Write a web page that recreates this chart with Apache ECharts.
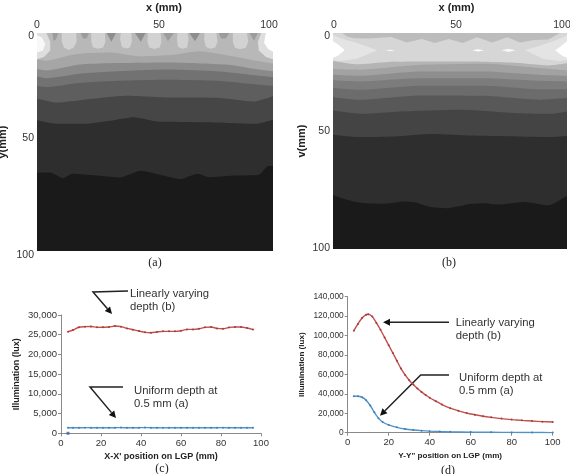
<!DOCTYPE html>
<html>
<head>
<meta charset="utf-8">
<style>html,body{margin:0;padding:0;background:#fff}#c{width:570px;height:474px}</style>
<script src="https://cdn.jsdelivr.net/npm/echarts@6/dist/echarts.min.js"></script>
</head>
<body>
<div id="c"></div>
<script>
// Illumination maps of the light guide plate: filled iso-illumination bands, depth y measured from the top edge.
const bandGreysA = ['#b8b8b8','#a6a6a6','#8a8a8a','#727272','#5e5e5e','#464646','#2e2e2e','#1a1a1a'];
const bandsA = [
  [[0,0],[100,0]],
  [[0,12],[4,12.7],[15,10],[22,9.2],[31,8.9],[44,10.7],[58,10],[68.5,8.4],[83,10.7],[94,13],[100,14.1]],
  [[0,16.5],[4,17.2],[18,14.5],[34,13.8],[55,13.5],[80,14.5],[94,16.8],[100,17.6]],
  [[0,19.9],[4,20.7],[18,18.7],[34,17.6],[55,16.8],[76,17.6],[94,19.6],[100,20.2]],
  [[0,24.2],[4,24.8],[17,23],[34,21.9],[55,21.4],[76,21.9],[94,23.7],[100,24.2]],
  [[0,30],[8.5,31.9],[20,30.6],[38,28.8],[55,29.6],[76,29.7],[92,31.4],[100,29]],
  [[0,40],[8.5,41.6],[20,41.6],[31,40.2],[41,38.6],[51,40.6],[63,40.8],[76,41],[93,41.6],[100,39.8]],
  [[0,64],[5.6,64],[11,66.6],[15,64.6],[21,65],[27,65.5],[35,66.3],[44,63.2],[52,65],[61,67],[68,64.6],[73,66.2],[83,65.4],[94,65],[98,61],[100,61]]
];
// Bright patches under each light source and darker wedges between them (band A, top edge).
const patchesA = [
  {grey:'#dedede', pts:[[0,0],[4,0],[5.6,4],[5.6,8],[3,11],[0,12]]},
  {grey:'#d2d2d2', pts:[[10.5,0],[16.6,0],[16.8,4],[15.5,6.8],[13.5,7.8],[11.5,6.8],[10.5,4]]},
  {grey:'#d2d2d2', pts:[[23,0],[28.8,0],[29,4],[28,6.6],[25.8,7.2],[23.7,6.5],[23,4]]},
  {grey:'#d2d2d2', pts:[[35.5,0],[40,0],[40.2,4],[39.3,6.6],[37.8,7.1],[36,6.4],[35.2,3]]},
  {grey:'#d2d2d2', pts:[[47,0],[52.4,0],[52.7,4],[52,6.6],[49.7,7.3],[47.6,6.7],[46.8,4]]},
  {grey:'#d2d2d2', pts:[[59.5,0],[63.8,0],[64.2,3],[63.6,6.6],[61.6,7.2],[59.8,6.4],[59.3,3]]},
  {grey:'#d2d2d2', pts:[[71,0],[76,0],[76.5,4],[75.5,6.6],[73.5,7.2],[71.6,6.4],[70.8,3]]},
  {grey:'#d2d2d2', pts:[[83,0],[89,0],[89.5,4],[88.5,6.8],[86,7.5],[83.8,6.7],[83,4]]},
  {grey:'#dedede', pts:[[95,0],[100,0],[100,12],[97,11],[94,8],[93.6,4]]},
  {grey:'#f8f8f8', pts:[[0,1],[2,2],[3.5,5],[2.5,8],[0,9]]},
  {grey:'#ffffff', pts:[[97,0],[100,0],[100,8.5],[98,7.5],[96.2,4.5]]},
  {grey:'#9c9c9c', pts:[[6.5,0],[9,0],[8,3],[7,3.5]]},
  {grey:'#9c9c9c', pts:[[18.5,0],[22,0],[21,2.5],[19.5,2.5]]},
  {grey:'#8e8e8e', pts:[[29.5,0],[33.5,0],[31.5,4]]},
  {grey:'#8e8e8e', pts:[[41.5,0],[46,0],[44,4]]},
  {grey:'#9c9c9c', pts:[[53.5,0],[58,0],[55.5,3.8]]},
  {grey:'#8e8e8e', pts:[[64.5,0],[69,0],[67,3.8]]},
  {grey:'#9c9c9c', pts:[[77,0],[81.5,0],[80,2.5],[78,2.5]]},
  {grey:'#9c9c9c', pts:[[90,0],[93.5,0],[92,3.5]]}
];

const bandGreysB = ['#d6d6d6','#b4b4b4','#a2a2a2','#8e8e8e','#7c7c7c','#6c6c6c','#585858','#444444','#2e2e2e','#1a1a1a'];
const bandsB = [
  [[0,0],[100,0]],
  [[0,13],[10,14.5],[24,13.4],[42,13.2],[60,13.2],[78,13.8],[92,15],[100,14]],
  [[0,16.7],[11,17],[37,14.7],[65,14.2],[88,16.2],[100,17.3]],
  [[0,19.3],[11,19.8],[37,17.8],[65,17.8],[88,19.3],[100,19.8]],
  [[0,21.9],[11,22.4],[37,20.9],[65,20.9],[88,22.1],[100,22.4]],
  [[0,25.5],[11,26.3],[37,24.4],[65,24.4],[88,26],[100,26]],
  [[0,29.7],[11,30.9],[37,28.9],[65,29.1],[88,30.9],[100,30.1]],
  [[0,35.9],[12,37.4],[29,36.3],[55,35.5],[79,37.1],[93,37.4],[100,36.3]],
  [[0,47.1],[11,48.2],[26.6,47.9],[42,46.8],[59,47.5],[79,47.9],[93,48.2],[100,47.6]],
  [[0,75],[3.8,76.5],[11,78.5],[21,79.1],[31,78],[35,78.4],[41,80.4],[49,81.1],[59,79.1],[65,78.8],[70.6,79.4],[82,78.2],[92,79.8],[100,75.3]]
];
// Scalloped darker strip along the top edge and the bright wedges at the corners.
const patchesB = [
  {grey:'#bcbcbc', pts:[[4,0],[97,0],[92,3],[86,3.2],[80,4.4],[74.5,2],[68,4.4],[61.5,2],[55.5,4.6],[49.5,2.8],[43.5,4.6],[38,2.8],[31.5,4.4],[25,1.8],[20,2.2],[15,2.6],[9,2.4],[6,1.6]]},
  {grey:'#e4e4e4', pts:[[0,1],[5,3],[10,4.5],[19,8],[10,12],[3,13],[0,12.5]]},
  {grey:'#e4e4e4', pts:[[100,1],[95,3.5],[88,6],[82,8],[90,12],[97,13],[100,12.5]]},
  {grey:'#ffffff', pts:[[0,3.8],[2.5,5.5],[5,8],[2,10.5],[0,11.5]]},
  {grey:'#ffffff', pts:[[100,3.8],[97.5,6],[95,8],[98,10.5],[100,11.5]]},
  {grey:'#f8f8f8', pts:[[22.5,8],[24.5,7.7],[26.5,8],[24.5,8.5]]},
  {grey:'#ffffff', pts:[[59.5,8],[62,7.5],[64.5,8],[62,8.6]]},
  {grey:'#f8f8f8', pts:[[72,8],[75,7.3],[78,8],[75,8.8]]}
];

// Illumination profiles along the two centre lines (lux).
const xProfileBX = [3.5,6,9,12,15,18,21,24,27,30,33,36,39,42,45,48,51,54,57,60,63,66,69,72,75,78,81,84,87,90,93,96];
const xProfileB = [25770,26200,26900,27040,27100,26870,26900,26950,27200,27050,26600,26280,25950,25600,25500,25700,25850,25850,25850,26000,26350,26350,26500,26870,26950,26600,26500,26850,26950,26950,26700,26300];
const xProfileA = [1400,1420,1410,1430,1420,1400,1410,1430,1420,1440,1410,1400,1420,1450,1420,1400,1380,1400,1420,1410,1400,1430,1420,1410,1400,1420,1430,1410,1400,1420,1410,1400];
const xStrayPoint = [[3.5,0]];

const yProfileBX = [3,5,7,9,10,12,14,16,18,20,22,24,26,28,30,32,34,36,38,40,43,46,50,54,58,62,66,70,75,80,85,90,95,100];
const yProfileB = [105000,112000,118000,121500,122000,119500,113000,106000,98000,90000,82000,74000,66000,59500,54000,49500,45500,42000,38800,36000,32500,29000,25200,22500,20200,18500,17000,15800,14500,13500,12700,12000,11400,11000];
const yProfileAX = [3,5,7,9,11,13,15,17,20,24,28,32,36,40,45,50,60,70,80,90,100];
const yProfileA = [37500,37500,36500,33500,28000,21000,15000,11000,8000,5500,3800,2800,2100,1600,1200,900,600,400,300,200,100];

const sans = '"Liberation Sans", Arial, sans-serif';
const serif = '"Liberation Serif", "Times New Roman", serif';
const RED = '#c0504d', BLUE = '#4f93c9';

const zip = (xs, ys) => xs.map((x, i) => [x, ys[i]]);
const commas = v => v.toLocaleString('en-US');

// Hand-placed tick text on the map panels: each label sits a few pixels off its tick.
function shiftedLabels(shifts, margin) {
  const rich = {};
  Object.keys(shifts).forEach(k => {
    const [dx, dy] = shifts[k];
    rich['t' + k] = {
      fontFamily: sans, fontSize: 10.5, color: '#333',
      padding: [Math.max(dy, 0) * 2, Math.max(-dx, 0) * 2, Math.max(-dy, 0) * 2, Math.max(dx, 0) * 2]
    };
  });
  return {
    show: true, margin, rich,
    formatter: v => `{t${v}|${v}}`
  };
}

function mapPanel(ix, bands, greys, patches, grid, xShift, yShift, namePad, yGap, yName) {
  const series = bands.map((band, i) => ({
    type: 'line', xAxisIndex: ix, yAxisIndex: ix, data: band, symbol: 'none', smooth: 0.2, silent: true,
    lineStyle: {width: 0}, areaStyle: {color: greys[i], opacity: 1, origin: 'end'}
  }));
  series.push({
    type: 'custom', xAxisIndex: ix, yAxisIndex: ix, silent: true, z: 3,
    data: patches.map((p, i) => [p.pts[0][0], p.pts[0][1], i]),
    encode: {x: 0, y: 1},
    renderItem: (params, api) => {
      const patch = patches[api.value(2)];
      return {
        type: 'polygon',
        shape: {points: patch.pts.map(p => api.coord(p))},
        style: {fill: patch.grey}
      };
    }
  });
  return {
    grid,
    xAxis: {
      gridIndex: ix, type: 'value', position: 'top', min: 0, max: 100, interval: 50,
      axisLine: {show: false}, axisTick: {show: false}, splitLine: {show: false},
      axisLabel: shiftedLabels(xShift, 2),
      name: 'x (mm)', nameLocation: 'middle', nameGap: 20,
      nameTextStyle: {fontFamily: sans, fontSize: 11, fontWeight: 'bold', color: '#222', padding: namePad}
    },
    yAxis: {
      gridIndex: ix, type: 'value', inverse: true, min: 0, max: 100, interval: 50,
      axisLine: {show: false}, axisTick: {show: false}, splitLine: {show: false},
      axisLabel: shiftedLabels(yShift, 3),
      name: yName, nameLocation: 'middle', nameGap: yGap, nameRotate: 90,
      nameTextStyle: {fontFamily: sans, fontSize: 11, fontWeight: 'bold', color: '#222'}
    },
    series
  };
}

function profileAxes(ix, grid, xName, yName, yMax, yStep, fontY, nameFont, nameGaps) {
  const axisLine = {show: true, lineStyle: {color: '#8a8a8a', width: 1}};
  const axisTick = {show: true, length: 3, lineStyle: {color: '#8a8a8a'}};
  return {
    grid,
    xAxis: {
      gridIndex: ix, type: 'value', min: 0, max: 100, interval: 20, axisLine, axisTick, splitLine: {show: false},
      axisLabel: {fontFamily: sans, fontSize: 9.5, color: '#333', margin: 5},
      name: xName, nameLocation: 'middle', nameGap: nameGaps[0],
      nameTextStyle: {fontFamily: sans, fontSize: nameFont, fontWeight: 'bold', color: '#222'}
    },
    yAxis: {
      gridIndex: ix, type: 'value', min: 0, max: yMax, interval: yStep, axisLine, axisTick, splitLine: {show: false},
      axisLabel: {fontFamily: sans, fontSize: fontY, color: '#333', margin: 4, formatter: commas},
      name: yName, nameLocation: 'middle', nameGap: nameGaps[1],
      nameTextStyle: {fontFamily: sans, fontSize: nameFont, fontWeight: 'bold', color: '#222'}
    }
  };
}

const profile = (ix, data, color, markColor) => ({
  type: 'line', xAxisIndex: ix, yAxisIndex: ix, data, smooth: 0.3, symbol: 'circle', symbolSize: 2,
  itemStyle: {color: markColor}, lineStyle: {color, width: 1.4}
});

const frame = (left, top, width, height) => ({left, top, width, height, outerBoundsMode: 'none'});

const panelA = mapPanel(0, bandsA, bandGreysA, patchesA, frame(37, 33, 236, 218),
  {0: [0, 0], 50: [4, 0], 100: [-4, 0]}, {0: [0, 3], 50: [0, -4], 100: [0, 4]}, [0, 0, 0, 18], 29, 'y(mm)');
const panelB = mapPanel(1, bandsB, bandGreysB, patchesB, frame(333, 33, 234, 216),
  {0: [1, 0], 50: [6, 0], 100: [-5, 0]}, {0: [0, 3], 50: [0, -10], 100: [0, -1]}, [0, 0, 0, 13], 25.5, 'v(mm)');
const panelC = profileAxes(2, frame(61, 315, 200, 118.3),
  'X-X\' position on LGP (mm)', 'Illumination (lux)', 30000, 5000, 9.5, 9, [19, 40]);
const panelD = profileAxes(3, frame(347.7, 296.7, 205, 136),
  'Y-Y" position on LGP (mm)', 'Illumination (lux)', 140000, 20000, 8.4, 8.1, [19.5, 41.5]);

// Text and arrow callouts on the profile panels, plus the panel letters.
const note = (x, y, text) => ({type: 'text', x, y, style: {text, fontFamily: sans, fontSize: 11.3, lineHeight: 13.5, fill: '#333', verticalAlign: 'top'}});
const letter = (x, y, text) => ({type: 'text', x, y, style: {text, fontFamily: serif, fontSize: 12, fill: '#222', align: 'center', verticalAlign: 'middle'}});
function arrow(pts) {
  const [a, b] = pts.slice(-2);
  const len = Math.hypot(b[0] - a[0], b[1] - a[1]);
  const ux = (b[0] - a[0]) / len, uy = (b[1] - a[1]) / len;
  const base = [b[0] - ux * 7, b[1] - uy * 7];
  return [
    {type: 'polyline', shape: {points: pts.slice(0, -1).concat([base])}, style: {stroke: '#222', lineWidth: 1.5, fill: null}},
    {type: 'polygon', shape: {points: [b, [base[0] - uy * 3.5, base[1] + ux * 3.5], [base[0] + uy * 3.5, base[1] - ux * 3.5]]}, style: {fill: '#111'}}
  ];
}

const chart = echarts.init(document.getElementById('c'), null, {renderer: 'canvas'});
chart.setOption({
  animation: false,
  backgroundColor: '#fff',
  grid: [panelA.grid, panelB.grid, panelC.grid, panelD.grid],
  xAxis: [panelA.xAxis, panelB.xAxis, panelC.xAxis, panelD.xAxis],
  yAxis: [panelA.yAxis, panelB.yAxis, panelC.yAxis, panelD.yAxis],
  series: [
    ...panelA.series,
    ...panelB.series,
    profile(2, zip(xProfileBX, xProfileB), RED, '#a83a3a'),
    profile(2, zip(xProfileBX, xProfileA), BLUE, '#3f7fb8'),
    {type: 'scatter', xAxisIndex: 2, yAxisIndex: 2, data: xStrayPoint, symbol: 'rect', symbolSize: 3, itemStyle: {color: '#3a5fb0'}},
    profile(3, zip(yProfileBX, yProfileB), RED, '#a83a3a'),
    profile(3, zip(yProfileAX, yProfileA), BLUE, '#3f7fb8')
  ],
  graphic: [
    letter(155, 263, '(a)'), letter(449, 263, '(b)'), letter(162, 469, '(c)'), letter(448, 471, '(d)'),
    note(130, 287, 'Linearly varying\ndepth (b)'),
    note(134, 384, 'Uniform depth at\n0.5 mm (a)'),
    note(455.7, 316, 'Linearly varying\ndepth (b)'),
    note(459, 371, 'Uniform depth at\n0.5 mm (a)'),
    ...arrow([[128, 291], [93, 292], [112, 314]]),
    ...arrow([[123, 387], [90, 387], [116, 418]]),
    ...arrow([[449, 322.3], [383, 322.3]]),
    ...arrow([[449, 375], [420.7, 375], [380, 415.7]])
  ]
});
</script>
</body>
</html>
